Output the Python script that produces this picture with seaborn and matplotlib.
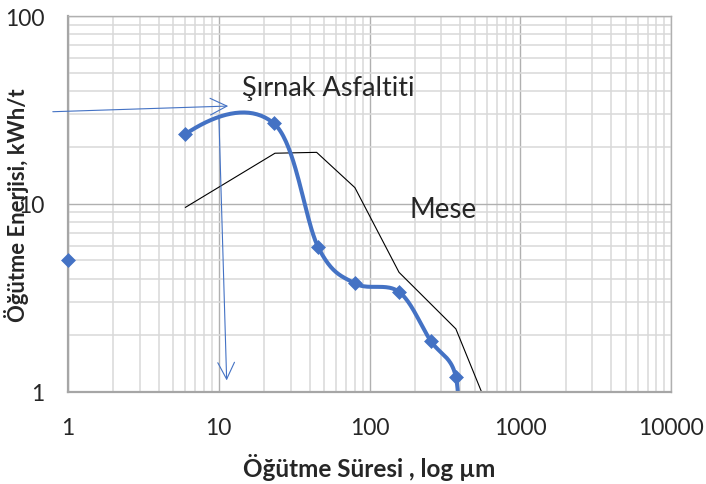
import numpy as np
import pandas as pd
import matplotlib
matplotlib.use("Agg")
import matplotlib.pyplot as plt
import seaborn as sns
from matplotlib.ticker import LogLocator, FixedLocator, FixedFormatter, NullFormatter

# Şırnak asphaltite: grinding energy against size
sirnak_um = [1, 6, 23.2, 45.7, 80, 157, 254, 374, 390]
sirnak_kwh = [5.0, 23.5, 26.8, 5.87, 3.77, 3.40, 1.87, 1.20, 0.40]

# Mese reference curve
mese_um = [6, 23.6, 44.6, 80, 157, 374, 553]
mese_kwh = [9.57, 18.6, 18.8, 12.2, 4.32, 2.16, 1.0]

x_ticks = [1, 10, 100, 1000, 10000]
x_tick_labels = ["1", "10", "100", "1000", "10000"]
y_ticks = [1, 10, 100]
y_tick_labels = ["1", "10", "100"]

BLUE = "#4472C4"
TEXT = "#262626"


def smooth_log(xs, ys, start=0, n=40):
    """Bezier smoothing (1/6 tangent rule) in log-log space."""
    P = np.column_stack([np.log10(xs), np.log10(ys)])
    m = len(P)
    t = np.linspace(0, 1, n)[:, None]
    parts = []
    for i in range(start, m - 1):
        p0, p1, p2, p3 = P[max(i - 1, 0)], P[i], P[i + 1], P[min(i + 2, m - 1)]
        c1 = p1 + (p2 - p0) / 6
        c2 = p2 - (p3 - p1) / 6
        seg = (1 - t) ** 3 * p1 + 3 * (1 - t) ** 2 * t * c1 + 3 * (1 - t) * t ** 2 * c2 + t ** 3 * p2
        parts.append(seg if i == start else seg[1:])
    arr = np.vstack(parts)
    return 10 ** arr[:, 0], 10 ** arr[:, 1]


sns.set_style("white")
plt.rcParams["font.family"] = ["Lato", "DejaVu Sans"]

fig = plt.figure(figsize=(7.06, 4.85), dpi=100)
ax = fig.add_axes([68 / 706, 1 - 392.7 / 485, 603 / 706, 375.7 / 485])
ax.set_xscale("log")
ax.set_yscale("log")
ax.set_xlim(1, 10000)
ax.set_ylim(1, 100)

# grid
ax.xaxis.set_minor_locator(LogLocator(base=10, subs=np.arange(2, 10)))
ax.yaxis.set_minor_locator(LogLocator(base=10, subs=np.arange(2, 10)))
ax.xaxis.set_minor_formatter(NullFormatter())
ax.yaxis.set_minor_formatter(NullFormatter())
ax.grid(which="minor", color="#D9D9D9", lw=1.1)
ax.grid(which="major", color="#B0B0B0", lw=1.0)
ax.set_axisbelow(True)

# Mese: straight segments
mese = pd.DataFrame({"um": mese_um, "kwh": mese_kwh})
sns.lineplot(data=mese, x="um", y="kwh", sort=False, estimator=None,
             color="black", lw=0.8, ax=ax)

# Şırnak: smoothed trace from the second reading on, markers on every reading
sx, sy = smooth_log(sirnak_um, sirnak_kwh, start=1)
sns.lineplot(x=sx, y=sy, sort=False, estimator=None, color=BLUE, lw=2.9, ax=ax)
pts = pd.DataFrame({"um": sirnak_um, "kwh": sirnak_kwh})
pts = pts[pts["kwh"] >= 1]
sns.scatterplot(data=pts, x="um", y="kwh", marker="D", s=50, color=BLUE,
                edgecolor=BLUE, linewidth=0.5, clip_on=False, zorder=5, ax=ax)

# pointer arrows
ax.annotate("", xy=(12.05, 33.2), xytext=(0.76, 30.9),
            arrowprops=dict(arrowstyle="->", color=BLUE, lw=0.8, mutation_scale=30),
            annotation_clip=False)
ax.annotate("", xy=(11.3, 1.11), xytext=(10.0, 30.7),
            arrowprops=dict(arrowstyle="->", color=BLUE, lw=0.8, mutation_scale=30),
            annotation_clip=False)

ax.text(14.25, 41.8, "Şırnak Asfaltiti", fontsize=19.5, color=TEXT, ha="left", va="center")
ax.text(185, 9.37, "Mese", fontsize=20, color=TEXT, ha="left", va="center")

# ticks
ax.xaxis.set_major_locator(FixedLocator(x_ticks))
ax.xaxis.set_major_formatter(FixedFormatter(x_tick_labels))
ax.yaxis.set_major_locator(FixedLocator(y_ticks))
ax.yaxis.set_major_formatter(FixedFormatter(y_tick_labels))
ax.tick_params(axis="both", which="major", length=5.5, width=1.2, color="#A6A6A6",
               labelsize=16.5, labelcolor=TEXT, direction="out")
ax.tick_params(axis="y", which="major", pad=11.5)
ax.tick_params(axis="x", which="major", pad=12.5)
ax.tick_params(which="minor", length=0)

for side in ["left", "bottom"]:
    ax.spines[side].set_color("#A6A6A6")
    ax.spines[side].set_linewidth(1.6)
for side in ["top", "right"]:
    ax.spines[side].set_color("#B0B0B0")
    ax.spines[side].set_linewidth(1.0)

ax.set_xlabel("Öğütme Süresi , log µm", fontsize=17.5, fontweight="bold", color=TEXT)
ax.set_ylabel("Öğütme Enerjisi, kWh/t", fontsize=15.8, fontweight="bold", color=TEXT)
ax.xaxis.set_label_coords(0.5, -0.198)
ax.xaxis.label.set_va("center")
ax.yaxis.set_label_coords(-0.0846, 0.5)
ax.yaxis.label.set_va("center")

fig.savefig("out.png", dpi=100)
